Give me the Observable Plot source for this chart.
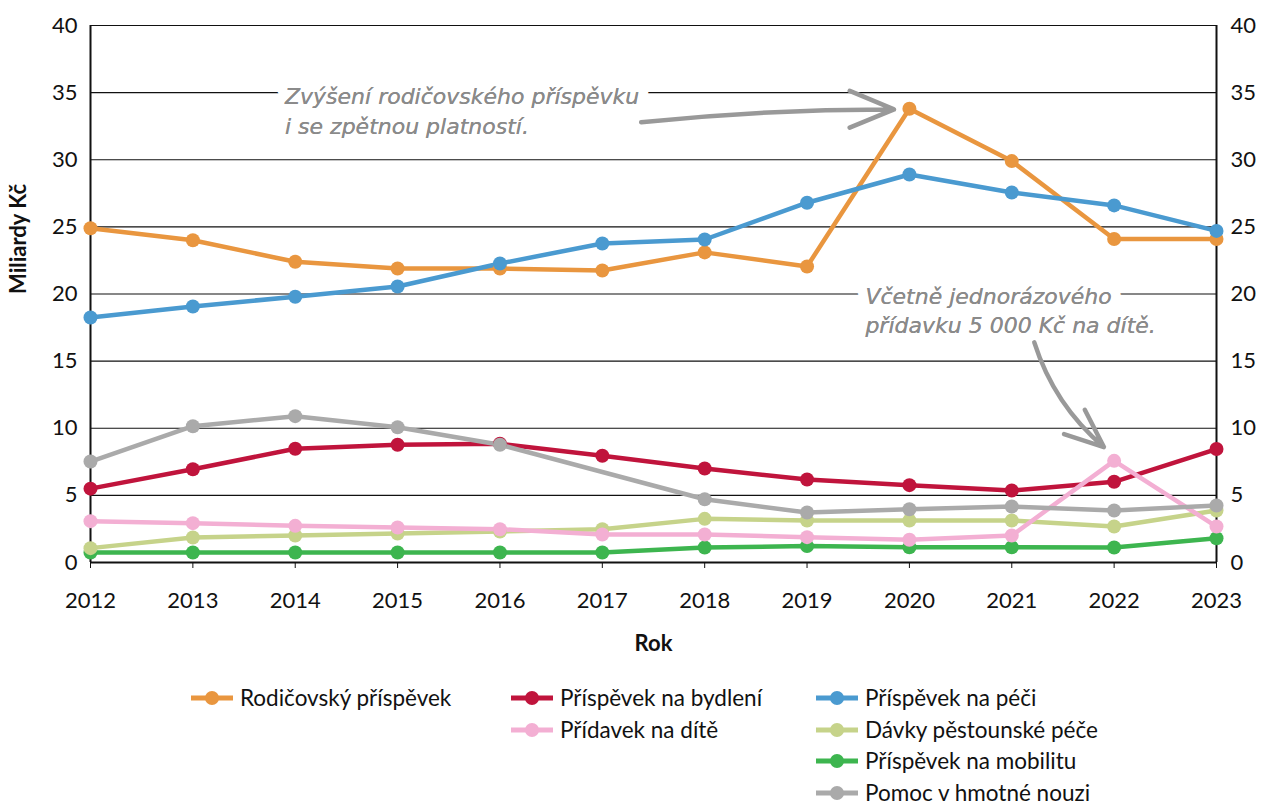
<!DOCTYPE html>
<html>
<head>
<meta charset="utf-8">
<script src="https://cdn.jsdelivr.net/npm/d3@7"></script>
<script src="https://cdn.jsdelivr.net/npm/@observablehq/plot@0.6"></script>
<style>
  html, body { margin: 0; padding: 0; background: #fff; }
  body { width: 1267px; height: 807px; overflow: hidden; font-family: Lato, "Open Sans", sans-serif; }
  #chart svg { display: block; }
  #legend { position: relative; height: 127px; }
  .li { position: absolute; display: flex; align-items: center; font-size: 22.5px; line-height: 20px; height: 20px; color: #111; white-space: nowrap; }
  .li svg { margin-right: 6px; }
</style>
</head>
<body>
<div id="chart"></div>
<div id="legend"></div>
<script>
const years = [2012, 2013, 2014, 2015, 2016, 2017, 2018, 2019, 2020, 2021, 2022, 2023];
const yTicks = [0, 5, 10, 15, 20, 25, 30, 35, 40];

const seriesNames = [
  "Rodičovský příspěvek",
  "Příspěvek na bydlení",
  "Příspěvek na péči",
  "Přídavek na dítě",
  "Dávky pěstounské péče",
  "Příspěvek na mobilitu",
  "Pomoc v hmotné nouzi"
];
const seriesColors = ["#E9963F", "#C0143C", "#4A9AD0", "#F3AFD3", "#C6D38A", "#3DB54F", "#AAAAAA"];

const rodicovsky = [24.9, 24.0, 22.4, 21.9, 21.9, 21.75, 23.1, 22.05, 33.8, 29.9, 24.1, 24.1];
const bydleni    = [5.5, 6.95, 8.47, 8.77, 8.84, 7.95, 7.0, 6.18, 5.76, 5.36, 6.01, 8.45];
const peci       = [18.25, 19.07, 19.8, 20.56, 22.27, 23.76, 24.06, 26.8, 28.9, 27.56, 26.6, 24.7];
const pridavek   = [3.08, 2.93, 2.73, 2.61, 2.48, 2.09, 2.09, 1.89, 1.69, 2.01, 7.57, 2.68];
const pestounske = [1.07, 1.86, 2.01, 2.16, 2.31, 2.48, 3.25, 3.13, 3.13, 3.13, 2.68, 3.87];
const mobilitu   = [0.74, 0.74, 0.74, 0.74, 0.74, 0.74, 1.12, 1.22, 1.14, 1.14, 1.12, 1.81];
const hmotne     = [7.52, 10.15, 10.9, 10.08, 8.77, null, 4.71, 3.72, 3.97, 4.17, 3.87, 4.25];

const seriesValues = [rodicovsky, bydleni, peci, pridavek, pestounske, mobilitu, hmotne];

// drawing order (later = on top)
const drawOrder = [0, 2, 1, 5, 4, 3, 6];

const note1 = ["Zvýšení rodičovského příspěvku", "i se zpětnou platností."];
const note2 = ["Včetně jednorázového", "přídavku 5 000 Kč na dítě."];

const rows = [];
for (const i of drawOrder) {
  seriesValues[i].forEach((v, j) => {
    if (v != null) rows.push({year: years[j], value: v, series: seriesNames[i]});
  });
}

const color = {domain: seriesNames, range: seriesColors};

const noteFont = {fontFamily: "'DejaVu Sans', sans-serif", fontStyle: "oblique", fontWeight: "normal", fill: "#8a8a8a", fontSize: 22, stroke: "white", strokeWidth: 20, textAnchor: "start"};
const n1x = 2013.9, n2x = 2019.57;

const plot = Plot.plot({
  width: 1267,
  height: 680,
  marginLeft: 90,
  marginRight: 51,
  marginTop: 25,
  marginBottom: 118,
  style: {fontFamily: "Lato, 'Open Sans', sans-serif", fontSize: "22px", color: "#111", background: "white"},
  x: {domain: [2012, 2023]},
  y: {domain: [0, 40]},
  color,
  marks: [
    Plot.ruleY(yTicks.filter(d => d > 0), {stroke: "#111", strokeWidth: 1.1}),
    Plot.text([note1[0]], {x: () => n1x, y: () => 34.65, text: d => d, ...noteFont}),
    Plot.text([note1[1]], {x: () => n1x, y: () => 32.45, text: d => d, ...noteFont}),
    Plot.text([note2[0]], {x: () => n2x, y: () => 19.8, text: d => d, ...noteFont}),
    Plot.text([note2[1]], {x: () => n2x, y: () => 17.6, text: d => d, ...noteFont}),
    Plot.text([note1[0]], {x: () => n1x, y: () => 34.65, text: d => d, ...noteFont, stroke: null}),
    Plot.text([note1[1]], {x: () => n1x, y: () => 32.45, text: d => d, ...noteFont, stroke: null}),
    Plot.text([note2[0]], {x: () => n2x, y: () => 19.8, text: d => d, ...noteFont, stroke: null}),
    Plot.text([note2[1]], {x: () => n2x, y: () => 17.6, text: d => d, ...noteFont, stroke: null}),
    Plot.arrow([0], {x1: () => 2017.38, y1: () => 32.8, x2: () => 2019.85, y2: () => 33.75, bend: 3, stroke: "#999", strokeWidth: 4.5, headLength: 16, headAngle: 45}),
    Plot.arrow([0], {x1: () => 2021.22, y1: () => 16.4, x2: () => 2021.9, y2: () => 8.6, bend: -16, stroke: "#999", strokeWidth: 4.5, headLength: 16, headAngle: 45}),
    Plot.ruleX([2012, 2023], {stroke: "#111", strokeWidth: 2}),
    Plot.ruleY([0], {stroke: "#111", strokeWidth: 2}),
    Plot.axisY({anchor: "left", ticks: yTicks, tickSize: 0, tickPadding: 13, label: null, fontSize: 22}),
    Plot.axisY({anchor: "right", ticks: yTicks, tickSize: 0, tickPadding: 14, label: null, fontSize: 22}),
    Plot.axisX({ticks: years, tickFormat: d => String(d), tickSize: 6, tickPadding: 24, label: null, fontSize: 22, stroke: "#111"}),
    Plot.text(["Rok"], {frameAnchor: "bottom", dy: 88, text: d => d, fontWeight: "bold", fontSize: 22, fill: "#111"}),
    Plot.text(["Miliardy Kč"], {frameAnchor: "left", dx: -72, rotate: -90, text: d => d, fontWeight: "bold", fontSize: 22, fill: "#111"}),
    Plot.line(rows, {x: "year", y: "value", z: "series", stroke: "series", strokeWidth: 4.5}),
    Plot.dot(rows, {x: "year", y: "value", fill: "series", r: 7}),
  ]
});
document.getElementById("chart").appendChild(plot);

// Legend
const legendPos = [
  [190, 0], [510, 0], [815, 0],
  [510, 1], [815, 1], [815, 2], [815, 3]
];
const legend = document.getElementById("legend");
seriesNames.forEach((name, i) => {
  const [x, r] = legendPos[i];
  const el = document.createElement("div");
  el.className = "li";
  el.style.left = x + "px";
  el.style.top = (8 + r * 31.7) + "px";
  el.innerHTML = `<svg width="44" height="16"><line x1="1" x2="43" y1="8" y2="8" stroke="${seriesColors[i]}" stroke-width="5"/><circle cx="22" cy="8" r="7" fill="${seriesColors[i]}"/></svg><span>${name}</span>`;
  legend.appendChild(el);
});
</script>
</body>
</html>
